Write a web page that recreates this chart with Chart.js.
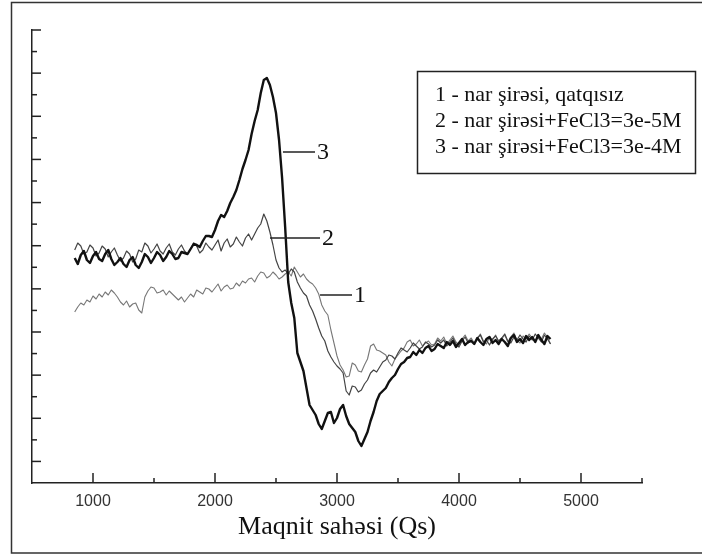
<!DOCTYPE html>
<html><head><meta charset="utf-8">
<script src="https://cdn.jsdelivr.net/npm/chart.js@4/dist/chart.umd.min.js"></script>
<style>html,body{margin:0;padding:0;background:#fff}canvas{display:block}</style>
</head><body>
<canvas id="c" width="702" height="555"></canvas>
<script>
// Magnetic field (Qs)
const fieldQs = [850,875,900,925,950,975,1000,1025,1050,1075,
  1100,1125,1150,1175,1200,1225,1250,1275,1300,1325,
  1350,1375,1400,1425,1450,1475,1500,1525,1550,1575,
  1600,1625,1650,1675,1700,1725,1750,1775,1800,1825,
  1850,1875,1900,1925,1950,1975,2000,2025,2050,2075,
  2100,2125,2150,2175,2200,2225,2250,2275,2300,2325,
  2350,2375,2400,2425,2450,2475,2500,2525,2550,2575,
  2600,2625,2650,2675,2700,2725,2750,2775,2800,2825,
  2850,2875,2900,2925,2950,2975,3000,3025,3050,3075,
  3100,3125,3150,3175,3200,3225,3250,3275,3300,3325,
  3350,3375,3400,3425,3450,3475,3500,3525,3550,3575,
  3600,3625,3650,3675,3700,3725,3750,3775,3800,3825,
  3850,3875,3900,3925,3950,3975,4000,4025,4050,4075,
  4100,4125,4150,4175,4200,4225,4250,4275,4300,4325,
  4350,4375,4400,4425,4450,4475,4500,4525,4550,4575,
  4600,4625,4650,4675,4700,4725,4750];
// Signal, arbitrary units
const signal1 = [171,176,180,178,183,181,187,184,189,186,
  191,188,193,190,186,181,178,182,176,179,
  180,173,170,186,192,196,195,190,191,193,
  188,192,189,186,183,186,181,185,189,186,
  193,191,189,195,194,191,195,199,192,196,
  198,194,195,200,197,202,200,204,205,201,
  207,211,210,205,207,211,208,204,206,209,
  211,207,216,211,206,209,204,201,199,195,
  189,178,172,168,153,140,127,118,113,106,
  107,120,118,112,111,118,124,137,139,133,
  132,130,128,121,117,124,128,132,135,141,
  143,137,139,143,137,140,142,138,139,145,
  142,146,139,143,147,141,138,144,148,142,
  145,140,144,149,142,139,146,143,148,141,
  144,148,141,146,150,143,140,147,144,149,
  145,141,148,144,150,146,139];
const signal2 = [233,240,237,229,231,238,235,227,230,237,
  234,226,231,235,228,222,225,232,229,221,
  224,233,231,240,237,230,234,239,232,229,
  235,239,231,228,234,238,232,229,234,240,
  237,230,233,240,236,233,238,243,232,240,
  244,236,239,246,241,237,245,249,243,249,
  255,259,269,262,251,238,223,215,211,213,
  209,214,211,201,195,190,187,178,172,164,
  155,147,142,132,126,121,117,114,110,92,
  88,97,96,91,93,99,103,110,113,111,
  116,121,123,128,127,124,130,135,133,131,
  135,140,137,134,136,141,139,136,138,143,
  140,143,137,141,145,139,136,142,146,140,
  143,139,145,148,141,143,138,144,147,142,
  145,149,142,140,146,143,148,144,141,147,
  143,149,145,141,148,144,139];
const signal3 = [225,219,228,232,223,220,227,231,224,222,
  229,233,224,218,221,225,219,216,223,226,
  218,215,221,229,226,220,225,231,228,222,
  226,232,229,224,225,231,230,229,234,239,
  238,236,242,247,247,246,253,262,268,266,
  272,280,286,293,303,314,323,333,349,362,
  373,390,403,405,398,386,370,343,305,256,
  201,180,165,130,121,112,95,78,73,68,
  59,54,62,70,71,60,65,74,78,67,
  59,55,51,42,37,44,51,62,71,82,
  89,92,95,101,105,108,114,119,121,125,
  126,131,128,133,130,135,137,132,134,139,
  137,135,141,138,142,136,140,144,138,141,
  142,139,145,141,138,144,146,140,143,139,
  144,141,137,145,148,141,144,140,147,143,
  146,141,148,143,139,147,144];
const seriesNames = ['1 - nar şirəsi, qatqısız','2 - nar şirəsi+FeCl3=3e-5M','3 - nar şirəsi+FeCl3=3e-4M'];
const xMajorTicks = [1000,2000,3000,4000,5000];
const xMinorTicks = [1500,2500,3500,4500,5500];
const yMin = 0, yMax = 453, yTickCount = 21;

const curveLabels = [
  {text:'3', x0:2557, x1:2820, y:331},
  {text:'2', x0:2451, x1:2861, y:245},
  {text:'1', x0:2861, x1:3123, y:188}
];

const pts = arr => arr.map((v,i)=>({x:fieldQs[i], y:v}));

const decor = {
  id:'decor',
  beforeDraw(chart){
    const ctx = chart.ctx;
    ctx.save(); ctx.fillStyle='#fff'; ctx.fillRect(0,0,chart.width,chart.height); ctx.restore();
  },
  afterDraw(chart){
    const {ctx, chartArea:a, scales:{x,y}} = chart;
    ctx.save();
    // outer frame
    ctx.strokeStyle='#333'; ctx.lineWidth=1.5;
    ctx.beginPath(); ctx.moveTo(705,2.5); ctx.lineTo(11.5,2.5); ctx.lineTo(11.5,553); ctx.lineTo(705,553); ctx.stroke();
    // inward ticks
    ctx.strokeStyle='#222'; ctx.lineWidth=1.5;
    const step = (yMax-yMin)/yTickCount;
    for(let k=0;k<yTickCount;k++){
      const py = y.getPixelForValue(yMax-k*step);
      const len = k%2===0 ? 9 : 5;
      ctx.beginPath(); ctx.moveTo(a.left, py); ctx.lineTo(a.left+len, py); ctx.stroke();
    }
    xMajorTicks.forEach(t=>{const px=x.getPixelForValue(t); ctx.beginPath(); ctx.moveTo(px,a.bottom); ctx.lineTo(px,a.bottom-10); ctx.stroke();});
    xMinorTicks.forEach(t=>{const px=x.getPixelForValue(t); ctx.beginPath(); ctx.moveTo(px,a.bottom); ctx.lineTo(px,a.bottom-5); ctx.stroke();});
    // curve labels
    ctx.fillStyle='#111'; ctx.font='24px "Liberation Serif"'; ctx.textBaseline='middle'; ctx.textAlign='left';
    curveLabels.forEach(l=>{
      const py=y.getPixelForValue(l.y), p0=x.getPixelForValue(l.x0), p1=x.getPixelForValue(l.x1);
      ctx.beginPath(); ctx.moveTo(p0,py); ctx.lineTo(p1,py); ctx.stroke();
      ctx.fillText(l.text, p1+2, py+1);
    });
    // legend box
    ctx.lineWidth=1.5; ctx.strokeStyle='#222';
    ctx.strokeRect(417.5,71.5,278,102);
    ctx.font='22px "Liberation Serif"'; ctx.textBaseline='alphabetic';
    seriesNames.forEach((s,i)=>ctx.fillText(s, 435, 101+i*25.8));
    ctx.restore();
  }
};

new Chart(document.getElementById('c'), {
  type:'line',
  data:{datasets:[
    {label:seriesNames[2], data:pts(signal3), borderColor:'#111', borderWidth:2.4, order:0},
    {label:seriesNames[1], data:pts(signal2), borderColor:'#444', borderWidth:1.2, order:1},
    {label:seriesNames[0], data:pts(signal1), borderColor:'#777', borderWidth:1.1, order:2}
  ]},
  options:{
    responsive:false, animation:false, devicePixelRatio:1,
    layout:{padding:{left:32, top:30, right:60, bottom:14}},
    elements:{point:{radius:0}, line:{tension:0, borderJoinStyle:'round', fill:false}},
    plugins:{legend:{display:false}, tooltip:{enabled:false}},
    scales:{
      x:{type:'linear', min:500, max:5500,
        afterBuildTicks: s => { s.ticks = xMajorTicks.map(v=>({value:v})); },
        afterFit: s => { s.height = 58; },
        grid:{display:false, drawTicks:false},
        border:{display:true, color:'#222', width:1.5},
        ticks:{padding:9, color:'#333', autoSkip:false, maxRotation:0, font:{family:'Liberation Sans', size:16}, callback:v=>String(v)},
        title:{display:true, text:'Maqnit sahəsi (Qs)', color:'#111', font:{family:'Liberation Serif', size:26, lineHeight:1}, padding:{top:0,bottom:1}}
      },
      y:{type:'linear', min:yMin, max:yMax,
        afterFit: s => { s.width = 0; },
        grid:{display:false, drawTicks:false},
        border:{display:true, color:'#222', width:1.5},
        ticks:{display:false}
      }
    }
  },
  plugins:[decor]
});
</script>
</body></html>
